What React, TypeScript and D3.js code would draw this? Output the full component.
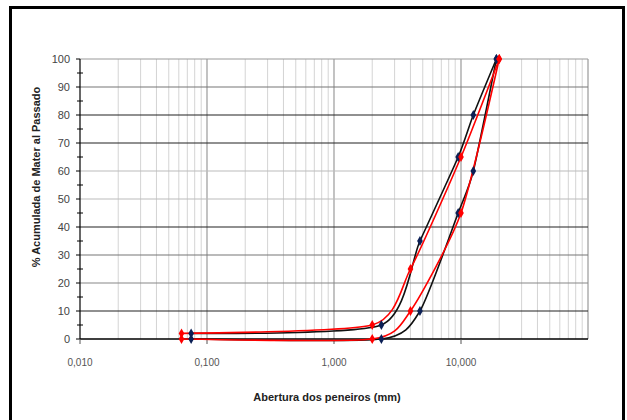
import React from "react";
import * as d3 from "d3";

// ---- data ----
const blackSieves = [0.075, 2.36, 4.75, 9.5, 12.5, 19];
const blackUpper = [2, 5, 35, 65, 80, 100];
const blackLower = [0, 0, 10, 45, 60, 100];

const redSieves = [0.063, 2.0, 4.0, 10.0, 20.0];
const redUpper = [2, 5, 25, 65, 100];
const redLower = [0, 0, 10, 45, 100];

const xTickValues = [0.01, 0.1, 1, 10];
const xTickLabels = ["0,010", "0,100", "1,000", "10,000"];
const yTickValues = [0, 10, 20, 30, 40, 50, 60, 70, 80, 90, 100];
const yGridColors = ["#000", "#222", "#888", "#777", "#222", "#bbb", "#bbb", "#222", "#222", "#777", "#999"];

const W = 627;
const H = 420;
const M = { left: 80, right: 588, top: 59, bottom: 339 };

export default function App() {
  const x = d3.scaleLog().domain([0.01, 100]).range([M.left, M.right]);
  const y = d3.scaleLinear().domain([0, 100]).range([M.bottom, M.top]);

  const minorX: number[] = [];
  for (let e = -2; e < 2; e++) {
    for (let m = 2; m <= 9; m++) minorX.push(m * Math.pow(10, e));
  }

  const line = d3
    .line<[number, number]>()
    .x((d) => x(d[0]))
    .y((d) => y(d[1]))
    .curve(d3.curveCardinal.tension(0.35));

  const zip = (xs: number[], ys: number[]) => xs.map((v, i) => [v, ys[i]] as [number, number]);

  const diamond = d3.symbol().type(d3.symbolDiamond).size(28)();

  const series = [
    { pts: zip(blackSieves, blackUpper), line: "#111", mark: "#0b1f55" },
    { pts: zip(blackSieves, blackLower), line: "#111", mark: "#0b1f55" },
    { pts: zip(redSieves, redUpper), line: "#ff0000", mark: "#ff0000" },
    { pts: zip(redSieves, redLower), line: "#ff0000", mark: "#ff0000" },
  ];

  return (
    <svg
      width={W}
      height={H}
      style={{ position: "absolute", left: 0, top: 0, background: "#fff" }}
      fontFamily="Liberation Sans, Arial, sans-serif"
    >
      <rect x={0} y={0} width={W} height={H} fill="#fff" />
      {/* frame */}
      <rect x={10.5} y={7.5} width={613} height={430} fill="none" stroke="#000" strokeWidth={3} />

      {/* minor vertical grid */}
      {minorX.map((v, i) => (
        <line key={"mx" + i} x1={x(v)} x2={x(v)} y1={M.top} y2={M.bottom} stroke="#d4d4d4" strokeWidth={1} />
      ))}
      {/* decade vertical grid */}
      {xTickValues.slice(1).map((v, i) => (
        <line key={"dx" + i} x1={x(v)} x2={x(v)} y1={M.top} y2={M.bottom} stroke="#9a9a9a" strokeWidth={1.2} />
      ))}
      {/* right border */}
      <line x1={M.right} x2={M.right} y1={M.top} y2={M.bottom} stroke="#999" strokeWidth={1.2} />
      {/* horizontal grid */}
      {yTickValues.map((v, i) => (
        <line key={"hy" + i} x1={M.left} x2={M.right} y1={y(v)} y2={y(v)} stroke={yGridColors[i]} strokeWidth={1.2} />
      ))}

      {/* y axis */}
      <line x1={M.left} x2={M.left} y1={M.top} y2={M.bottom} stroke="#000" strokeWidth={1.2} />
      {yTickValues.map((v, i) => (
        <g key={"yt" + i}>
          <line x1={M.left - 4} x2={M.left} y1={y(v)} y2={y(v)} stroke="#000" />
          <text x={70} y={y(v)} dy="0.35em" textAnchor="end" fontSize={11} fill="#444">
            {v}
          </text>
        </g>
      ))}
      {yTickValues.slice(1).map((v, i) => (
        <line key={"ym" + i} x1={M.left - 3} x2={M.left + 3} y1={y(v - 5)} y2={y(v - 5)} stroke="#000" />
      ))}

      {/* x axis */}
      <line x1={M.left} x2={M.right} y1={M.bottom} y2={M.bottom} stroke="#000" strokeWidth={1.2} />
      {xTickValues.map((v, i) => (
        <g key={"xt" + i}>
          <line x1={x(v)} x2={x(v)} y1={M.bottom} y2={M.bottom + 5} stroke="#555" />
          <text x={x(v)} y={362} dy="0.35em" textAnchor="middle" fontSize={10} fill="#555">
            {xTickLabels[i]}
          </text>
        </g>
      ))}

      {/* series */}
      {series.map((s, i) => (
        <path key={"l" + i} d={line(s.pts) || ""} fill="none" stroke={s.line} strokeWidth={1.6} />
      ))}
      {series.map((s, i) =>
        s.pts.map((p, j) => (
          <path key={"m" + i + "-" + j} d={diamond || ""} transform={`translate(${x(p[0])},${y(p[1])})`} fill={s.mark} />
        ))
      )}

      {/* axis titles */}
      <text x={327} y={397} dy="0.35em" textAnchor="middle" fontSize={11} fontWeight="bold" fill="#222">
        Abertura dos peneiros (mm)
      </text>
      <text
        transform={`translate(36,${(M.top + M.bottom) / 2 - 22}) rotate(-90)`}
        dy="0.35em"
        textAnchor="middle"
        fontSize={11}
        fontWeight="bold"
        fill="#222"
      >
        % Acumulada de Mater al Passado
      </text>
    </svg>
  );
}
